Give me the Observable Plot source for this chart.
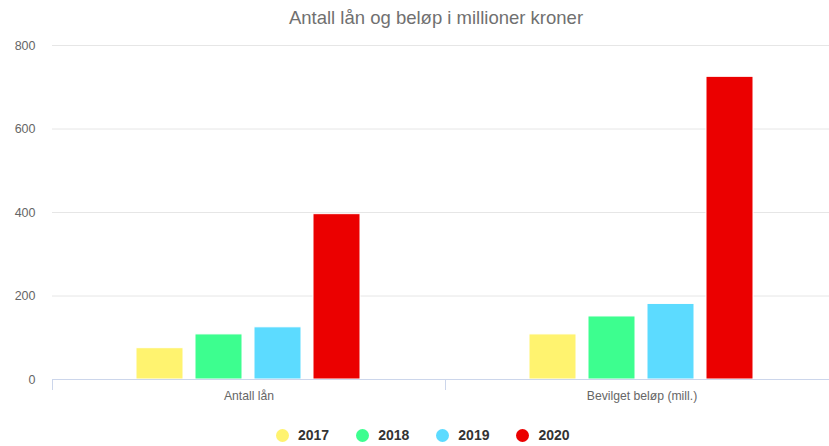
<!DOCTYPE html>
<html>
<head>
<meta charset="utf-8">
<script src="https://cdn.jsdelivr.net/npm/d3@7"></script>
<script src="https://cdn.jsdelivr.net/npm/@observablehq/plot@0.6"></script>
<style>
  html, body { margin: 0; padding: 0; background: #fff; overflow: hidden; width: 829px; height: 446px; }
  #wrap { position: relative; width: 829px; height: 446px; overflow: hidden; font-family: "Liberation Sans", Arial, sans-serif; }
  #title { position: absolute; top: 7px; left: 0; width: 872px; text-align: center; font-size: 18.5px; color: #707070; line-height: 22px; }
  #legend { position: absolute; top: 427px; left: 276px; display: flex; align-items: center; }
  .item { display: flex; align-items: center; margin-right: 27px; font-size: 14px; font-weight: bold; color: #333; }
  .dot { width: 13px; height: 13px; border-radius: 50%; margin-right: 9px; }
  #chart { position: absolute; top: 0; left: 0; width: 838px; }
  #chart svg { max-width: none !important; }
</style>
</head>
<body>
<div id="wrap">
  <div id="chart"></div>
  <div id="title">Antall lån og beløp i millioner kroner</div>
  <div id="legend"></div>
</div>
<script>
const categories = ["Antall lån", "Bevilget beløp (mill.)"];
const years = ["2017", "2018", "2019", "2020"];
const antallLan = [75, 108, 125, 396];
const bevilget = [108, 151, 181, 725];
const yTicks = [0, 200, 400, 600, 800];
const colors = ["#fff36f", "#3dfe8f", "#5cdbff", "#eb0000"];

const seriesByCategory = [antallLan, bevilget];
const data = [];
categories.forEach((c, ci) => {
  years.forEach((y, yi) => data.push({category: c, year: y, value: seriesByCategory[ci][yi]}));
});

const plot = Plot.plot({
  width: 838,
  height: 446,
  marginTop: 45,
  marginBottom: 67,
  marginLeft: 52,
  marginRight: 0,
  style: {fontFamily: "'Liberation Sans', Arial, sans-serif", fontSize: "11px", color: "#666", background: "transparent", maxWidth: "none"},
  facet: {data, x: "category"},
  fx: {domain: categories, padding: 0, axis: "bottom", tickSize: 0, tickPadding: 12, label: null},
  x: {domain: years, axis: null, paddingInner: 0.2, paddingOuter: 1.43},
  y: {domain: [0, 800], ticks: yTicks, tickSize: 0, tickPadding: 17, label: null},
  color: {domain: years, range: colors},
  marks: [
    Plot.ruleY(yTicks.filter(d => d > 0), {stroke: "#e6e6e6", strokeWidth: 1}),
    Plot.barY(data, {x: "year", y: "value", fill: "year", stroke: "#fff", strokeWidth: 1}),
    Plot.ruleY([0], {stroke: "#ccd6eb", strokeWidth: 1})
  ]
});
document.getElementById("chart").appendChild(plot);

const svgEl = plot.tagName.toLowerCase() === "svg" ? plot : plot.querySelector("svg");
const svg = d3.select(svgEl);
// y tick labels and category labels slightly larger, as in the reference
const tickStrings = yTicks.map(String);
svg.selectAll("text").filter(function() { return tickStrings.includes(this.textContent.trim()); })
  .style("font-size", "12.5px").attr("fill", "#666");
svg.selectAll("text").filter(function() { return categories.includes(this.textContent.trim()); })
  .style("font-size", "12.2px").attr("fill", "#666");

// category tick marks at band edges of the fx scale
const fxs = plot.scale("fx");
const band = d3.scaleBand(fxs.domain, fxs.range).paddingInner(fxs.paddingInner || 0).paddingOuter(fxs.paddingOuter || 0);
const edges = [...categories.map(c => band(c)), band(categories[categories.length - 1]) + band.bandwidth()];
const ys = plot.scale("y");
const yScale = d3.scaleLinear(ys.domain, ys.range);
svg.append("g").selectAll("line").data(edges).join("line")
  .attr("x1", d => Math.round(d) + 0.5).attr("x2", d => Math.round(d) + 0.5)
  .attr("y1", yScale(0)).attr("y2", yScale(0) + 11)
  .attr("stroke", "#ccd6eb").attr("stroke-width", 1);

const legend = document.getElementById("legend");
years.forEach((y, i) => {
  const it = document.createElement("div");
  it.className = "item";
  it.innerHTML = `<span class="dot" style="background:${colors[i]}"></span><span>${y}</span>`;
  legend.appendChild(it);
});
</script>
</body>
</html>
